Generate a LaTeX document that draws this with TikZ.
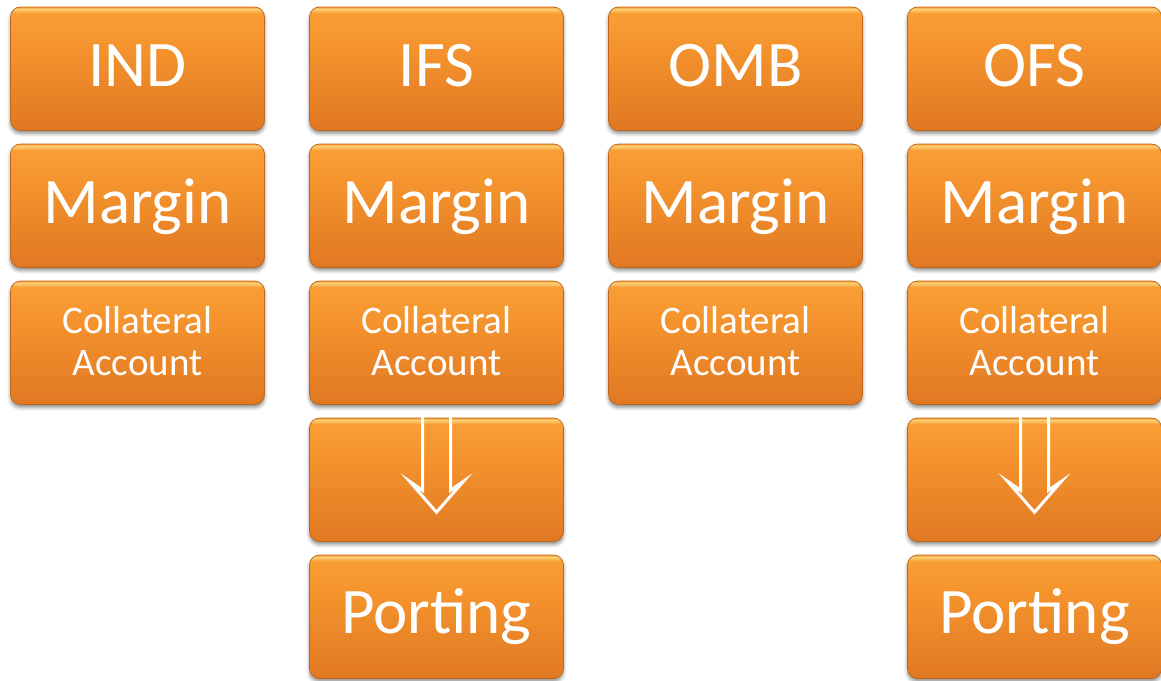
\documentclass[tikz,border=0pt]{standalone}
\usepackage{fontspec}
\setmainfont{Carlito}
\usetikzlibrary{shadows.blur}

\definecolor{boxhi}{RGB}{252,208,120}
\definecolor{boxtop}{RGB}{249,158,52}
\definecolor{boxmid}{RGB}{245,148,46}
\definecolor{boxbot}{RGB}{224,120,34}
\definecolor{boxedge}{RGB}{190,100,28}

% glossy orange fill: light rim on top, darker towards the bottom
\pgfdeclareverticalshading{glossorange}{100bp}{%
  color(0bp)=(boxbot); color(25bp)=(boxbot); color(60bp)=(boxmid);
  color(72.5bp)=(boxtop); color(74.2bp)=(boxhi); color(75bp)=(boxtop);
  color(100bp)=(boxtop)}

\tikzset{
  tile/.style={rectangle, rounded corners=10pt, draw=boxedge, line width=0.7pt,
    shading=glossorange, minimum width=254pt, minimum height=123.5pt,
    inner sep=0pt,
    blur shadow={shadow xshift=0pt, shadow yshift=-3pt,
      shadow blur radius=3.5pt, shadow opacity=45}},
  bigtext/.style={text=white, font=\fontsize{65}{72}\selectfont, anchor=base, inner sep=0pt},
  smalltext/.style={text=white, font=\fontsize{39}{43}\selectfont, anchor=base, inner sep=0pt},
  hollowarrow/.style={draw=white, line width=3pt, miter limit=10}
}

\begin{document}
\begin{tikzpicture}[x=1pt, y=-1pt]
  \useasboundingbox (0,0) rectangle (1161,680);

  % one column per account type: title, margin, collateral account
  \foreach \n/\t/\cx in {ind/IND/137.5, ifs/IFS/436.5, omb/OMB/735.5, ofs/OFS/1034.5}{
    \node[tile] (\n-title) at (\cx,68.75) {};
    \node[bigtext] (\n-titletext) at ([yshift=-18pt]\n-title.center) {\t};
    \node[tile] (\n-margin) at (\cx,205.75) {};
    \node[bigtext] (\n-margintext) at ([yshift=-18pt]\n-margin.center) {Margin};
    \node[tile] (\n-coll) at (\cx,342.75) {};
    \node[smalltext] (\n-colltext1) at ([yshift=9.75pt]\n-coll.center) {Collateral};
    \node[smalltext] (\n-colltext2) at ([yshift=-33pt]\n-coll.center) {Account};
  }

  % porting steps for the two client-segregated accounts
  \foreach \n/\cx in {ifs/436.5, ofs/1034.5}{
    \node[tile] (\n-step) at (\cx,479.75) {};
    \node[tile] (\n-port) at (\cx,616.75) {};
    \node[bigtext] (\n-porttext) at ([yshift=-17pt]\n-port.center) {Porting};
    \begin{scope}[shift={(\n-step.center)}]
      \draw[hollowarrow] (-14,-65) -- (-14,10.5) -- (-27,1.5) -- (0,32.5)
        -- (27,1.5) -- (14,10.5) -- (14,-65);
    \end{scope}
  }
\end{tikzpicture}
\end{document}
